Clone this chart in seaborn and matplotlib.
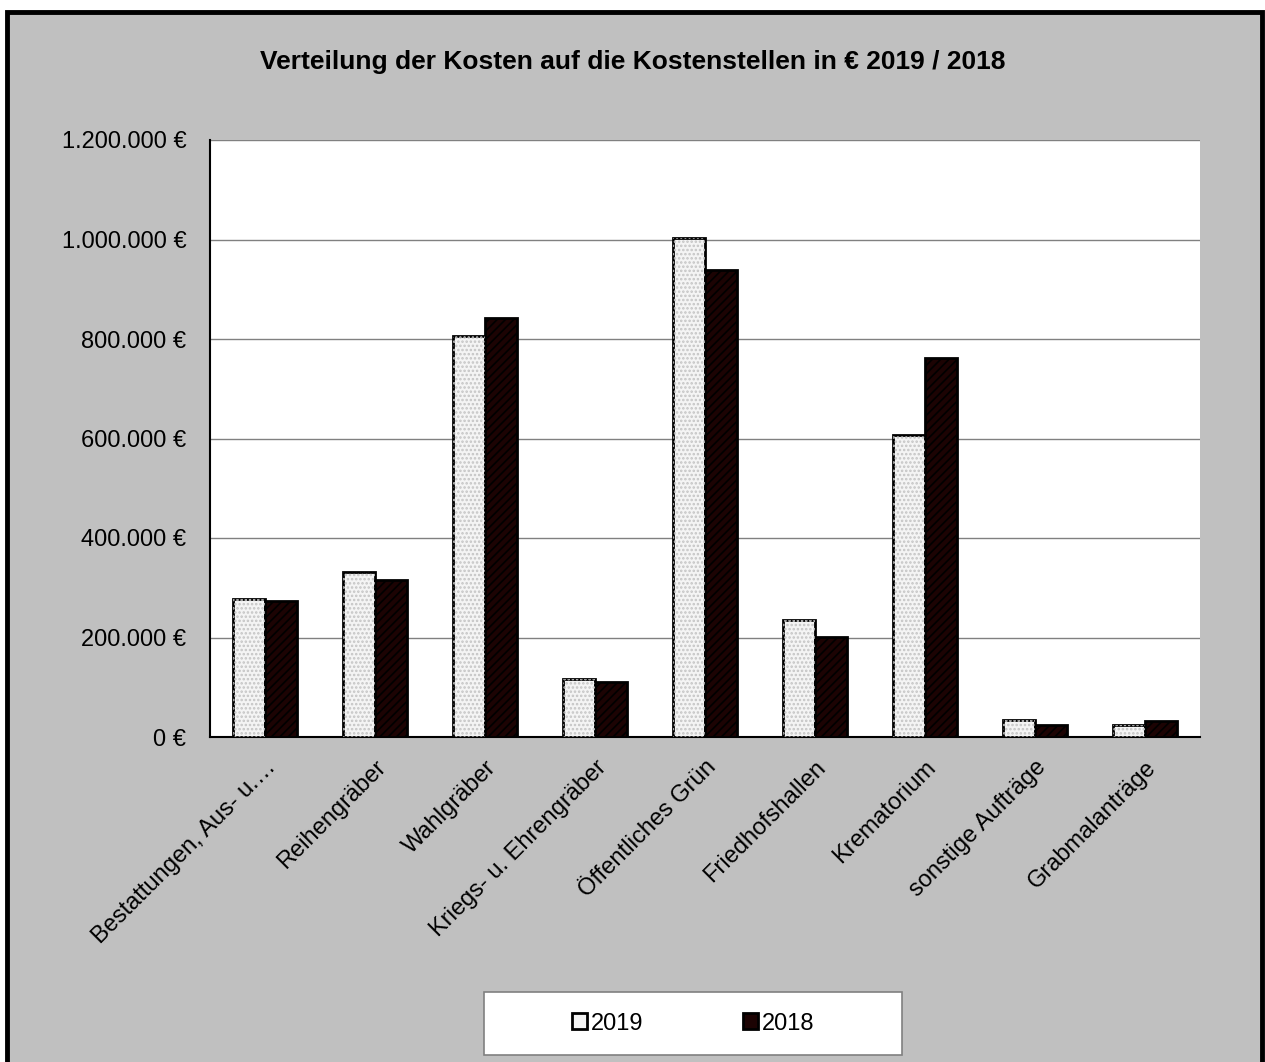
import pandas as pd
import numpy as np
import matplotlib
matplotlib.use('Agg')
import matplotlib.pyplot as plt
import seaborn as sns
from matplotlib.patches import Rectangle
from matplotlib.ticker import FuncFormatter, FixedLocator

# Kostenstellen und Werte (in Euro)
kostenstellen = ['Bestattungen, Aus- u.…', 'Reihengräber', 'Wahlgräber',
                 'Kriegs- u. Ehrengräber', 'Öffentliches Grün', 'Friedhofshallen',
                 'Krematorium', 'sonstige Aufträge', 'Grabmalanträge']
kosten_2019 = [277000, 332000, 806000, 117000, 1003000, 235000, 607000, 34000, 24000]
kosten_2018 = [273000, 316000, 842000, 111000, 939000, 201000, 762000, 24000, 32000]
jahre = ['2019', '2018']

df = pd.DataFrame({
    'Kostenstelle': kostenstellen * 2,
    'Kosten': kosten_2019 + kosten_2018,
    'Jahr': [jahre[0]] * len(kostenstellen) + [jahre[1]] * len(kostenstellen),
})

sns.set_style('white')
plt.rcParams['font.family'] = ['Liberation Sans', 'DejaVu Sans']
plt.rcParams['text.color'] = 'black'
plt.rcParams['xtick.color'] = 'black'
plt.rcParams['ytick.color'] = 'black'
plt.rcParams['hatch.linewidth'] = 1.2

fig = plt.figure(figsize=(12.65, 10.62), dpi=100)
fig.patch.set_facecolor('white')
# grauer Hintergrund mit schwarzem Rahmen
fig.patches.append(Rectangle((7 / 1265, -0.01), 1 - 10 / 1265, 1 - 12 / 1062 + 0.01,
                             transform=fig.transFigure, facecolor='#c0c0c0',
                             edgecolor='black', linewidth=3.5, zorder=-10))

ax = fig.add_axes([210 / 1265, 1 - 737 / 1062, 990 / 1265, 597 / 1062])
ax.set_facecolor('white')

farben = {'2019': '#f4f4f4', '2018': '#1c0303'}
sns.barplot(data=df, x='Kostenstelle', y='Kosten', hue='Jahr', palette=farben,
            width=0.58, edgecolor='black', linewidth=2, saturation=1,
            legend=False, ax=ax, zorder=3)

# Muster auf die Balken legen
for p in list(ax.patches):
    fc = p.get_facecolor()
    if fc[0] > 0.5:
        hatch, hc = '....', '#c4c4c4'
    else:
        hatch, hc = '////', '#000000'
    ax.add_patch(Rectangle(p.get_xy(), p.get_width(), p.get_height(),
                           facecolor='none', edgecolor=hc, hatch=hatch,
                           linewidth=0, zorder=3.5))
    p.set_zorder(3)

ax.set_ylim(0, 1200000)
ax.set_xlim(-0.5, len(kostenstellen) - 0.5)
ax.yaxis.set_major_locator(FixedLocator(np.arange(0, 1200001, 200000)))
ax.yaxis.set_major_formatter(FuncFormatter(lambda v, _: f'{int(v):,} €'.replace(',', '.')))
ax.grid(axis='y', color='#808080', linewidth=1, zorder=0)
ax.set_axisbelow(True)

for s in ['top', 'right']:
    ax.spines[s].set_visible(False)
ax.spines['left'].set_color('black')
ax.spines['bottom'].set_color('black')
ax.spines['left'].set_linewidth(1.5)
ax.spines['bottom'].set_linewidth(1.5)

# Kategoriegrenzen als Ticks
ax.set_xticks(np.arange(len(kostenstellen)))
ax.set_xticklabels(kostenstellen, rotation=45, ha='right', rotation_mode='anchor',
                   fontsize=17, color='black')
ax.tick_params(axis='x', length=0, pad=14)
ax.set_xticks(np.arange(-0.5, len(kostenstellen)), minor=True)
ax.tick_params(axis='x', which='minor', length=8, color='#808080', width=1.5, direction='out')
ax.tick_params(axis='y', labelsize=17, labelcolor='black', length=7, color='#808080',
               width=1.5, direction='out', pad=10)
ax.set_xlabel('')
ax.set_ylabel('')

fig.text(0.5, 1 - 62 / 1062, 'Verteilung der Kosten auf die Kostenstellen in € 2019 / 2018',
         ha='center', va='center', fontsize=19, fontweight='bold', color='black')

# Legende mit eigenem Rahmen
fig.patches.append(Rectangle((484 / 1265, 1 - 1055 / 1062), 418 / 1265, 63 / 1062,
                             transform=fig.transFigure, facecolor='white',
                             edgecolor='#808080', linewidth=1.2, zorder=-5))
handles = [Rectangle((0, 0), 1, 1, facecolor='#f4f4f4', edgecolor='black', linewidth=2),
           Rectangle((0, 0), 1, 1, facecolor='#1c0303', edgecolor='black', linewidth=2)]
leg = fig.legend(handles, jahre, ncol=2, loc='center',
                 bbox_to_anchor=(484 / 1265, 1 - 1055 / 1062, 418 / 1265, 63 / 1062),
                 frameon=False, fontsize=17,
                 handlelength=0.65, handleheight=0.65, handletextpad=0.15, columnspacing=4.2)

fig.savefig('out.png', dpi=100, facecolor=fig.get_facecolor())
